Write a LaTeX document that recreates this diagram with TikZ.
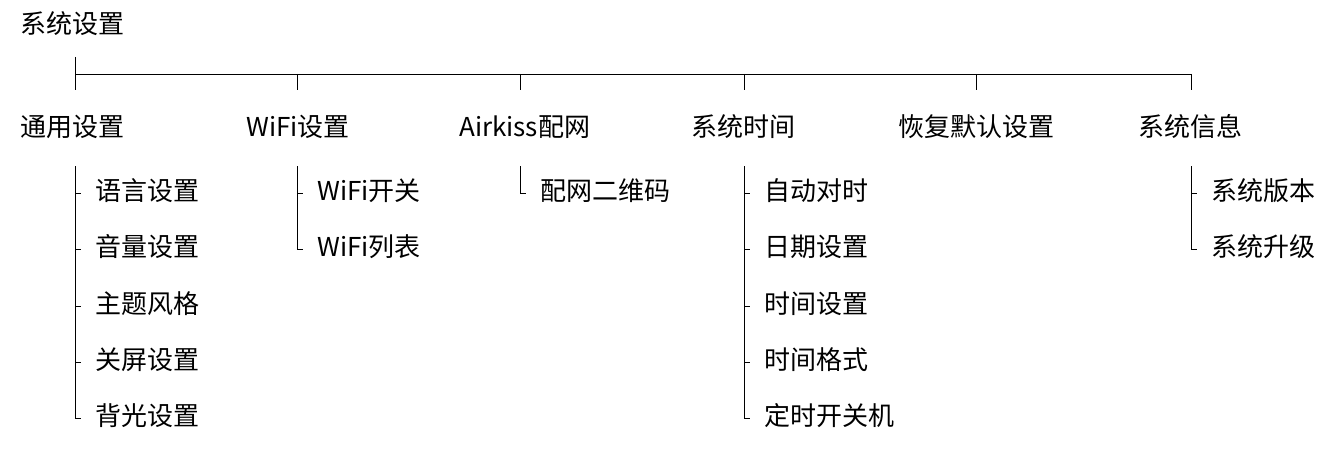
\documentclass[tikz,border=0pt]{standalone}
\usepackage{fontspec}
\setmainfont{Noto Sans CJK SC}
\begin{document}
\begin{tikzpicture}[x=1pt,y=-1pt,
  lbl/.style={anchor=west,inner sep=0pt,font=\fontsize{26}{26}\selectfont},
  ln/.style={line width=0.9pt}]
\useasboundingbox (0,0) rectangle (1342,460);
\node[lbl] (root) at (20,24) {系统设置};
\coordinate (rootdown) at (75,57);
\coordinate (bar) at (75,74);
\coordinate (barend) at (1191,74);
\draw[ln] (rootdown) -- (bar) -- (barend);
\foreach \x/\t/\n [count=\i] in {20/通用设置/a,246/WiFi设置/b,459/Airkiss配网/c,691/系统时间/d,898/恢复默认设置/e,1138/系统信息/f}{
  \node[lbl] (\n) at (\x,127) {\t};
}
\foreach \x/\n in {75/a,297/b,520/c,744/d,976/e,1191/f}{
  \coordinate (top\n) at (\x,74);
  \coordinate (bot\n) at (\x,90);
  \draw[ln] (top\n) -- (bot\n);
}
% children
\newcommand{\kids}[3]{% x, last y, list
  \coordinate (s#1) at (#1,166);
  \coordinate (e#1) at (#1,#2);
  \draw[ln] (s#1) -- (e#1);
  \foreach \y/\t [count=\k] in {#3}{
    \node[lbl] (k#1-\k) at (#1+20,\y) {\t};
    \coordinate (t#1-\k) at (#1,\y+2);
    \draw[ln] (t#1-\k) -- ++(6,0);
  }
}
\kids{75}{418}{191/语言设置,247/音量设置,304/主题风格,360/关屏设置,416/背光设置}
\kids{297}{249}{191/WiFi开关,247/WiFi列表}
\kids{520}{193}{191/配网二维码}
\kids{744}{418}{191/自动对时,247/日期设置,304/时间设置,360/时间格式,416/定时开关机}
\kids{1191}{249}{191/系统版本,247/系统升级}
\end{tikzpicture}
\end{document}
